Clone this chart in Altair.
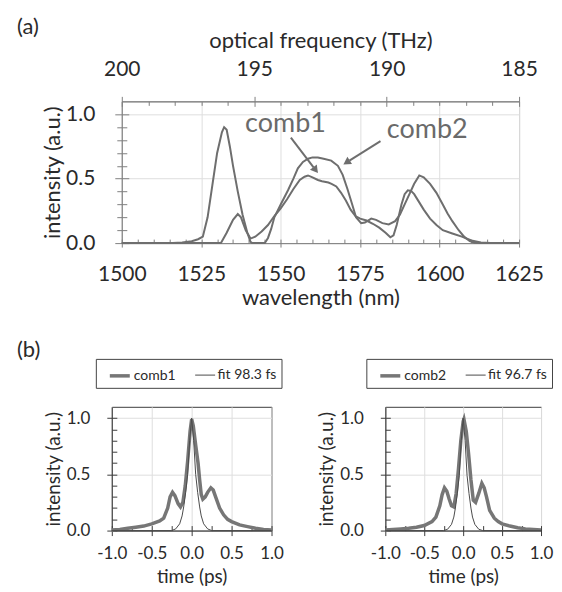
import altair as alt
import pandas as pd

FONT = "Lato"
TXT = "#2a2a2a"
LINE = "#6e6e6e"
GRID = "#dedede"
FRAME_A = "#808080"
FRAME_B = "#3c3c3c"

# ---------------- (a) optical spectra ----------------
comb1_wl = [1500, 1530, 1531.2, 1533, 1535, 1536.5, 1537.5, 1539, 1540.5, 1542, 1544, 1546, 1548,
            1550, 1552, 1554, 1556, 1557.5, 1558.6, 1560, 1561.7, 1563, 1565, 1566, 1567.5, 1569,
            1570.5, 1572, 1573.5, 1575, 1577, 1579, 1581, 1583, 1584.5, 1585.5, 1586.5, 1588, 1589,
            1590, 1591, 1592, 1593.5, 1595, 1597, 1599, 1601, 1604, 1607, 1610, 1613, 1616, 1625]
comb1_int = [0, 0, 0, 0.08, 0.18, 0.225, 0.2, 0.1, 0.035, 0.05, 0.09, 0.14, 0.21,
             0.27, 0.34, 0.42, 0.49, 0.515, 0.525, 0.51, 0.49, 0.48, 0.47, 0.46, 0.44, 0.39,
             0.33, 0.26, 0.21, 0.19, 0.175, 0.15, 0.12, 0.08, 0.045, 0.06, 0.14, 0.3, 0.38,
             0.41, 0.405, 0.38, 0.32, 0.26, 0.19, 0.14, 0.1, 0.075, 0.05, 0.02, 0.005, 0, 0]

comb2_wl = [1500, 1516, 1519, 1522, 1524, 1525.5, 1527, 1528.5, 1530, 1531.5, 1532.2, 1533, 1534,
            1535, 1536.5, 1538, 1539.5, 1540.5, 1541, 1545, 1546, 1547, 1548, 1550, 1552.3, 1554,
            1555.4, 1557, 1558.6, 1560, 1561.7, 1563.5, 1565.9, 1568, 1569.5, 1571, 1572.5, 1573.7,
            1575.3, 1576.5, 1578.5, 1580, 1582, 1584, 1586, 1587.5, 1589, 1590.5, 1592, 1593.6,
            1595, 1597, 1599, 1601, 1602.5, 1604, 1606, 1607.7, 1609.5, 1611, 1613, 1625]
comb2_int = [0, 0, 0.005, 0.015, 0.03, 0.05, 0.2, 0.45, 0.7, 0.86, 0.9, 0.88, 0.75,
             0.6, 0.4, 0.22, 0.08, 0.01, 0, 0, 0.04, 0.11, 0.2, 0.3, 0.41, 0.5,
             0.58, 0.63, 0.655, 0.665, 0.665, 0.655, 0.64, 0.6, 0.53, 0.42, 0.3, 0.2,
             0.155, 0.16, 0.19, 0.18, 0.155, 0.145, 0.17, 0.22, 0.3, 0.38, 0.46, 0.525,
             0.51, 0.46, 0.39, 0.3, 0.23, 0.17, 0.1, 0.05, 0.015, 0.003, 0, 0]

wl_major = [1500, 1525, 1550, 1575, 1600, 1625]
wl_minor = [w for w in range(1505, 1625, 5) if w % 25]
int_major = [0.0, 0.5, 1.0]
int_minor = [0.1, 0.2, 0.3, 0.4, 0.6, 0.7, 0.8, 0.9]
freq_major = [200, 195, 190, 185]
freq_minor = [f for f in range(186, 200) if f % 5]

ann_text = ["comb1", "comb2"]
ann_x = [1551.5, 1596.1]
ann_y = [0.923, 0.877]
arrow_x0 = [1553.2, 1581.4]
arrow_y0 = [0.818, 0.792]
arrow_x1 = [1561.6, 1569.9]
arrow_y1 = [0.548, 0.613]
arrow_angle = [142.7, 237.5]

# ---------------- (b) pulses ----------------
comb1_t = [-1.0, -0.9, -0.8, -0.7, -0.6, -0.5, -0.4, -0.35, -0.3, -0.27, -0.24, -0.21, -0.17, -0.14,
           -0.11, -0.08, -0.05, -0.02, 0.0, 0.02, 0.05, 0.08, 0.1, 0.12, 0.14, 0.17, 0.2, 0.24, 0.27,
           0.3, 0.35, 0.4, 0.45, 0.5, 0.6, 0.7, 0.8, 0.9, 1.0]
comb1_p = [0.005, 0.01, 0.02, 0.03, 0.04, 0.06, 0.085, 0.11, 0.2, 0.3, 0.34, 0.31, 0.24, 0.21,
           0.25, 0.4, 0.62, 0.88, 0.99, 0.93, 0.76, 0.6, 0.45, 0.32, 0.28, 0.3, 0.34, 0.38, 0.36,
           0.3, 0.2, 0.14, 0.1, 0.08, 0.05, 0.035, 0.02, 0.01, 0.005]
fit1_t = [-1.0, -0.25, -0.2, -0.15, -0.12, -0.1, -0.075, -0.05, -0.025, 0.0, 0.025, 0.05, 0.075,
          0.1, 0.12, 0.15, 0.2, 0.25, 1.0]
fit1_v = [0, 0, 0.015, 0.06, 0.13, 0.21, 0.34, 0.5, 0.8, 1.0, 0.8, 0.5, 0.34,
          0.21, 0.13, 0.06, 0.015, 0, 0]

comb2_t = [-1.0, -0.9, -0.8, -0.7, -0.6, -0.5, -0.4, -0.35, -0.3, -0.27, -0.24, -0.21, -0.18, -0.15,
           -0.12, -0.09, -0.06, -0.03, 0.0, 0.01, 0.04, 0.07, 0.1, 0.13, 0.16, 0.2, 0.24, 0.27, 0.3,
           0.34, 0.4, 0.45, 0.5, 0.6, 0.7, 0.8, 0.9, 1.0]
comb2_p = [0.005, 0.01, 0.015, 0.02, 0.03, 0.045, 0.08, 0.12, 0.22, 0.32, 0.38, 0.35, 0.28, 0.22,
           0.21, 0.33, 0.55, 0.8, 0.97, 0.99, 0.88, 0.68, 0.45, 0.27, 0.25, 0.33, 0.42, 0.38, 0.3,
           0.18, 0.11, 0.08, 0.06, 0.04, 0.025, 0.015, 0.01, 0.005]
fit2_t = fit1_t
fit2_v = [0, 0, 0.012, 0.055, 0.12, 0.2, 0.33, 0.49, 0.8, 1.0, 0.8, 0.49, 0.33,
          0.2, 0.12, 0.055, 0.012, 0, 0]

t_major = [-1.0, -0.5, 0.0, 0.5, 1.0]
t_minor = [-0.75, -0.25, 0.25, 0.75]
p_major = [0.0, 0.5, 1.0]
p_minor = [0.1, 0.2, 0.3, 0.4, 0.6, 0.7, 0.8, 0.9]


def ax(**kw):
    base = dict(labelFont=FONT, titleFont=FONT, labelColor=TXT, titleColor=TXT,
                titleFontWeight="normal", labelOverlap=False, labelFlush=False)
    base.update(kw)
    return alt.Axis(**base)


def tick_axis(values, orient, offset, size, color):
    return alt.Axis(values=values, orient=orient, offset=offset, tickSize=size, tickColor=color,
                    tickWidth=1, labels=False, domain=False, grid=False, title=None)


def spacer():
    return alt.Chart(pd.DataFrame({"s": [0]})).mark_text(text="").encode(
        x=alt.value(0), y=alt.value(0)
    ).properties(width=1, height=1, view=alt.ViewBackground(stroke="transparent"))


# ----- panel (a) -----
spec_df = pd.concat([
    pd.DataFrame({"wl": comb1_wl, "intensity": comb1_int, "comb": "comb1"}),
    pd.DataFrame({"wl": comb2_wl, "intensity": comb2_int, "comb": "comb2"}),
])
xs_wl = alt.Scale(domain=[1500, 1625], nice=False, zero=False)
ys_int = alt.Scale(domain=[0, 1.1], nice=False, zero=False)
xs_fr = alt.Scale(domain=[185, 200], reverse=True, nice=False, zero=False)

lines = alt.Chart(spec_df).mark_line(color=LINE, strokeWidth=2).encode(
    x=alt.X("wl:Q", scale=xs_wl,
            axis=ax(values=wl_major, format="d", title="wavelength (nm)", ticks=False, tickSize=0,
                    grid=True, gridColor=GRID, domainColor=FRAME_A, labelFontSize=21,
                    titleFontSize=22, labelPadding=20, titlePadding=4)),
    y=alt.Y("intensity:Q", scale=ys_int,
            axis=ax(values=int_major, format=".1f", title="intensity (a.u.)", ticks=False,
                    tickSize=0, grid=True, gridColor=GRID, domainColor=FRAME_A, labelFontSize=21,
                    titleFontSize=22, labelPadding=27, titlePadding=1, labelAlign="right",
                    labelBaseline="middle")),
    detail="comb:N",
)

frame_wl = pd.DataFrame({"wl": [1500, 1625], "intensity": [0, 1.1]})
ticks_a_major = alt.Chart(frame_wl).mark_point(opacity=0, size=1).encode(
    x=alt.X("wl:Q", scale=xs_wl, axis=tick_axis(wl_major, "bottom", -4, 8, FRAME_A)),
    y=alt.Y("intensity:Q", scale=ys_int, axis=tick_axis(int_major, "left", -7, 14, FRAME_A)),
)
ticks_a_minor = alt.Chart(frame_wl).mark_point(opacity=0, size=1).encode(
    x=alt.X("wl:Q", scale=xs_wl, axis=tick_axis(wl_minor, "bottom", -4, 4, FRAME_A)),
    y=alt.Y("intensity:Q", scale=ys_int, axis=tick_axis(int_minor, "left", -5, 10, FRAME_A)),
)

frame_fr = pd.DataFrame({"freq": [185, 200], "intensity": [0, 1.1]})
freq_main = alt.Chart(frame_fr).mark_point(opacity=0, size=1).encode(
    x=alt.X("freq:Q", scale=xs_fr,
            axis=ax(orient="top", values=freq_major, format="d", title="optical frequency (THz)",
                    ticks=False, tickSize=0, grid=False, domainColor=FRAME_A, labelFontSize=21,
                    titleFontSize=22, labelPadding=22, titlePadding=6)),
    y=alt.Y("intensity:Q", scale=ys_int, axis=None),
)
freq_major_t = alt.Chart(frame_fr).mark_point(opacity=0, size=1).encode(
    x=alt.X("freq:Q", scale=xs_fr, axis=tick_axis(freq_major, "top", -5, 10, FRAME_A)),
    y=alt.Y("intensity:Q", scale=ys_int, axis=None),
)
freq_minor_t = alt.Chart(frame_fr).mark_point(opacity=0, size=1).encode(
    x=alt.X("freq:Q", scale=xs_fr, axis=tick_axis(freq_minor, "top", -4, 4, FRAME_A)),
    y=alt.Y("intensity:Q", scale=ys_int, axis=None),
)

ann_df = pd.DataFrame({"x": ann_x, "y": ann_y, "label": ann_text})
labels = alt.Chart(ann_df).mark_text(font=FONT, fontSize=27, color="#6a6a6a", align="center",
                                     baseline="middle").encode(
    x=alt.X("x:Q", scale=xs_wl, axis=None),
    y=alt.Y("y:Q", scale=ys_int, axis=None),
    text="label:N",
)
arr_df = pd.DataFrame({"x0": arrow_x0, "y0": arrow_y0, "x1": arrow_x1, "y1": arrow_y1,
                       "ang": arrow_angle})
arr_df["hx"] = arr_df.x0 + 0.9 * (arr_df.x1 - arr_df.x0)
arr_df["hy"] = arr_df.y0 + 0.9 * (arr_df.y1 - arr_df.y0)
arr_df["sx"] = arr_df.x0 + 0.85 * (arr_df.x1 - arr_df.x0)
arr_df["sy"] = arr_df.y0 + 0.85 * (arr_df.y1 - arr_df.y0)
shafts = alt.Chart(arr_df).mark_rule(color="#6e6e6e", strokeWidth=2).encode(
    x=alt.X("x0:Q", scale=xs_wl, axis=None), x2="sx:Q",
    y=alt.Y("y0:Q", scale=ys_int, axis=None), y2="sy:Q",
)
heads = alt.Chart(arr_df).mark_point(shape="triangle", filled=True, size=75, color="#6e6e6e",
                                     opacity=1).encode(
    x=alt.X("hx:Q", scale=xs_wl, axis=None),
    y=alt.Y("hy:Q", scale=ys_int, axis=None),
    angle=alt.Angle("ang:Q", scale=None),
)

panel_a = alt.layer(
    lines, ticks_a_major, ticks_a_minor, freq_main, freq_major_t, freq_minor_t, labels, shafts, heads
).resolve_scale(x="independent").resolve_axis(x="independent", y="independent").properties(
    width=398, height=142,
    view=alt.ViewBackground(stroke=FRAME_A, strokeWidth=1),
    title=alt.TitleParams("(a)", anchor="start", frame="group", dx=-105, offset=-10, font=FONT,
                          fontSize=22, fontWeight="normal", color=TXT),
)


# ----- panel (b) -----
xs_t = alt.Scale(domain=[-1, 1], nice=False, zero=False)
ys_p = alt.Scale(domain=[0, 1.1], nice=False, zero=False)
frame_t = pd.DataFrame({"t": [-1, 1], "v": [0, 1.1]})
MINUS_EXPR = "datum.value < 0 ? '-' + format(abs(datum.value), '.1f') : format(datum.value, '.1f')"


def pulse_panel(t, p, ft, fv, names, width, legend_x, title=None):
    df = pd.concat([
        pd.DataFrame({"t": t, "v": p, "series": names[0]}),
        pd.DataFrame({"t": ft, "v": fv, "series": names[1]}),
    ])
    data = alt.Chart(df).mark_line().encode(
        x=alt.X("t:Q", scale=xs_t,
                axis=ax(values=t_major, labelExpr=MINUS_EXPR, title="time (ps)", ticks=False,
                        tickSize=0, grid=True, gridColor=GRID, domainColor=FRAME_B,
                        labelFontSize=17, titleFontSize=19, labelPadding=15, titlePadding=6)),
        y=alt.Y("v:Q", scale=ys_p,
                axis=ax(values=p_major, format=".1f", title="intensity (a.u.)", ticks=False,
                        tickSize=0, grid=True, gridColor=GRID, domainColor=FRAME_B,
                        labelFontSize=17, titleFontSize=19, labelPadding=22, titlePadding=3,
                        labelAlign="right", labelBaseline="middle")),
        color=alt.Color("series:N", scale=alt.Scale(domain=names, range=["#767676", "#4a4a4a"]),
                        legend=alt.Legend(orient="none", legendX=legend_x, legendY=-48,
                                          direction="horizontal", title=None, strokeColor="#444444",
                                          padding=5, symbolOffset=7, labelFont=FONT,
                                          labelFontSize=14, labelColor=TXT, symbolType="stroke",
                                          symbolSize=400, labelOffset=2, columnPadding=12)),
        strokeWidth=alt.StrokeWidth("series:N", scale=alt.Scale(domain=names, range=[3.5, 1.0])),
    )
    tmaj = alt.Chart(frame_t).mark_point(opacity=0, size=1).encode(
        x=alt.X("t:Q", scale=xs_t, axis=tick_axis(t_major, "bottom", -5, 10, FRAME_B)),
        y=alt.Y("v:Q", scale=ys_p, axis=tick_axis(p_major, "left", -5, 10, FRAME_B)),
    )
    tmin = alt.Chart(frame_t).mark_point(opacity=0, size=1).encode(
        x=alt.X("t:Q", scale=xs_t, axis=tick_axis(t_minor, "bottom", -5, 5, FRAME_B)),
        y=alt.Y("v:Q", scale=ys_p, axis=tick_axis(p_minor, "left", -5, 5, FRAME_B)),
    )
    props = dict(width=width, height=124, view=alt.ViewBackground(stroke=FRAME_B, strokeWidth=1))
    if title is not None:
        props["title"] = title
    return alt.layer(data, tmaj, tmin).resolve_axis(x="independent", y="independent").properties(
        **props)


b_title = alt.TitleParams("(b)", anchor="start", frame="group", dx=-95, offset=-4, font=FONT,
                          fontSize=22, fontWeight="normal", color=TXT)
panel_b1 = pulse_panel(comb1_t, comb1_p, fit1_t, fit1_v, ["comb1", "fit 98.3 fs"], 160, -16,
                       b_title)
panel_b2 = pulse_panel(comb2_t, comb2_p, fit2_t, fit2_v, ["comb2", "fit 96.7 fs"], 156, -19)

pair_b = alt.hconcat(panel_b1, panel_b2, spacing=32).resolve_scale(
    color="independent", strokeWidth="independent")

row_a = alt.hconcat(spacer(), panel_a, spacing=0)
row_b = alt.hconcat(spacer(), pair_b, spacing=0)

chart = alt.vconcat(row_a, row_b, spacing=29).properties(
    padding={"left": 5, "top": 7, "right": 0, "bottom": 0}
).configure(font=FONT).configure_view(strokeWidth=1)

chart.save("out.html", embed_options={"renderer": "svg", "actions": False})
